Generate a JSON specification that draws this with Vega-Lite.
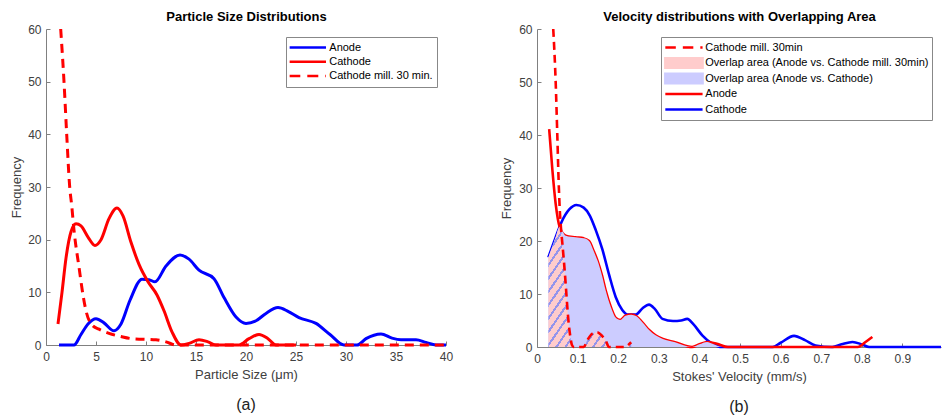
{
  "$schema": "https://vega.github.io/schema/vega-lite/v6.json",
  "padding": {"left": 10, "top": 10, "right": 0, "bottom": 0},
  "background": "#ffffff",
  "config": {
    "font": "Liberation Sans",
    "view": {"stroke": null},
    "axis": {"grid": false, "labelFlush": false, "domainColor": "#808080", "tickColor": "#808080", "labelColor": "#404040", "titleColor": "#404040", "labelFontSize": 12, "titleFontSize": 13, "titleFontWeight": "normal", "tickSize": -4, "domainWidth": 1},
    "legend": {"labelFontSize": 11, "labelColor": "#000000", "labelLimit": 300, "strokeColor": "#888888", "fillColor": "#ffffff", "padding": 3.5, "rowPadding": 0, "symbolSize": 144, "symbolStrokeWidth": 2.5, "cornerRadius": 0},
    "title": {"fontSize": 16, "fontWeight": "normal", "color": "#222222", "frame": "group", "orient": "bottom", "offset": 16}
  },
  "datasets": {
    "L": [
      {"series": "Anode", "x": 1.3, "y": 0}, {"series": "Anode", "x": 2.8, "y": 0}, {"series": "Anode", "x": 3.5, "y": 2}, {"series": "Anode", "x": 4.2, "y": 4}, {"series": "Anode", "x": 5.0, "y": 5.0}, {"series": "Anode", "x": 5.8, "y": 4.2}, {"series": "Anode", "x": 6.8, "y": 2.7}, {"series": "Anode", "x": 7.5, "y": 4}, {"series": "Anode", "x": 8.4, "y": 8.5}, {"series": "Anode", "x": 9.6, "y": 12.5}, {"series": "Anode", "x": 10.3, "y": 12.4}, {"series": "Anode", "x": 10.9, "y": 12.0}, {"series": "Anode", "x": 12, "y": 15}, {"series": "Anode", "x": 13.4, "y": 17.1}, {"series": "Anode", "x": 14.3, "y": 16.3}, {"series": "Anode", "x": 15.3, "y": 14.2}, {"series": "Anode", "x": 16.8, "y": 12.6}, {"series": "Anode", "x": 17.8, "y": 9}, {"series": "Anode", "x": 19, "y": 5.3}, {"series": "Anode", "x": 20, "y": 4.1}, {"series": "Anode", "x": 21, "y": 4.6}, {"series": "Anode", "x": 22, "y": 6}, {"series": "Anode", "x": 23.2, "y": 7.1}, {"series": "Anode", "x": 24.2, "y": 6.4}, {"series": "Anode", "x": 25.3, "y": 5.2}, {"series": "Anode", "x": 27, "y": 4.1}, {"series": "Anode", "x": 28.4, "y": 2}, {"series": "Anode", "x": 29.8, "y": 0}, {"series": "Anode", "x": 31.1, "y": 0}, {"series": "Anode", "x": 32, "y": 1.2}, {"series": "Anode", "x": 33.5, "y": 2.1}, {"series": "Anode", "x": 34.6, "y": 1.3}, {"series": "Anode", "x": 35.5, "y": 1.0}, {"series": "Anode", "x": 37, "y": 1.0}, {"series": "Anode", "x": 38, "y": 0.5}, {"series": "Anode", "x": 39, "y": 0}, {"series": "Anode", "x": 40, "y": 0},
      {"series": "Cathode", "x": 1.2, "y": 4}, {"series": "Cathode", "x": 1.6, "y": 10}, {"series": "Cathode", "x": 2.0, "y": 16.5}, {"series": "Cathode", "x": 2.5, "y": 21.5}, {"series": "Cathode", "x": 3.0, "y": 23}, {"series": "Cathode", "x": 3.5, "y": 22.6}, {"series": "Cathode", "x": 4.2, "y": 20.5}, {"series": "Cathode", "x": 4.9, "y": 18.9}, {"series": "Cathode", "x": 5.5, "y": 20}, {"series": "Cathode", "x": 6.3, "y": 24}, {"series": "Cathode", "x": 7.1, "y": 26}, {"series": "Cathode", "x": 7.7, "y": 24.5}, {"series": "Cathode", "x": 8.5, "y": 19.5}, {"series": "Cathode", "x": 9.3, "y": 15.3}, {"series": "Cathode", "x": 10.2, "y": 12}, {"series": "Cathode", "x": 11.1, "y": 9.5}, {"series": "Cathode", "x": 11.8, "y": 6.5}, {"series": "Cathode", "x": 12.6, "y": 2.5}, {"series": "Cathode", "x": 13.5, "y": 0}, {"series": "Cathode", "x": 14.3, "y": 0.3}, {"series": "Cathode", "x": 15.3, "y": 1.0}, {"series": "Cathode", "x": 16.2, "y": 0.6}, {"series": "Cathode", "x": 17, "y": 0}, {"series": "Cathode", "x": 19.3, "y": 0}, {"series": "Cathode", "x": 20.3, "y": 1.2}, {"series": "Cathode", "x": 21.3, "y": 2}, {"series": "Cathode", "x": 22.2, "y": 1.2}, {"series": "Cathode", "x": 23, "y": 0}, {"series": "Cathode", "x": 25, "y": 0},
      {"series": "Cathode mill. 30 min.", "x": 1.47, "y": 60}, {"series": "Cathode mill. 30 min.", "x": 1.8, "y": 50}, {"series": "Cathode mill. 30 min.", "x": 2.07, "y": 40}, {"series": "Cathode mill. 30 min.", "x": 2.37, "y": 30}, {"series": "Cathode mill. 30 min.", "x": 2.57, "y": 26.5}, {"series": "Cathode mill. 30 min.", "x": 2.8, "y": 21.8}, {"series": "Cathode mill. 30 min.", "x": 3.3, "y": 14.8}, {"series": "Cathode mill. 30 min.", "x": 3.7, "y": 9.5}, {"series": "Cathode mill. 30 min.", "x": 4.0, "y": 6.5}, {"series": "Cathode mill. 30 min.", "x": 4.6, "y": 3.8}, {"series": "Cathode mill. 30 min.", "x": 5.3, "y": 3.0}, {"series": "Cathode mill. 30 min.", "x": 6.3, "y": 2.2}, {"series": "Cathode mill. 30 min.", "x": 7.5, "y": 1.6}, {"series": "Cathode mill. 30 min.", "x": 8.6, "y": 1.2}, {"series": "Cathode mill. 30 min.", "x": 11, "y": 1.0}, {"series": "Cathode mill. 30 min.", "x": 12, "y": 0.6}, {"series": "Cathode mill. 30 min.", "x": 13, "y": 0}, {"series": "Cathode mill. 30 min.", "x": 40, "y": 0}
    ],
    "R": [
      {"series": "Cathode", "x": 0.028, "y": 16.9}, {"series": "Cathode", "x": 0.045, "y": 20.5}, {"series": "Cathode", "x": 0.06, "y": 23.5}, {"series": "Cathode", "x": 0.08, "y": 26}, {"series": "Cathode", "x": 0.097, "y": 26.8}, {"series": "Cathode", "x": 0.115, "y": 26.3}, {"series": "Cathode", "x": 0.13, "y": 24.8}, {"series": "Cathode", "x": 0.145, "y": 22}, {"series": "Cathode", "x": 0.161, "y": 18.4}, {"series": "Cathode", "x": 0.178, "y": 13.5}, {"series": "Cathode", "x": 0.194, "y": 9.4}, {"series": "Cathode", "x": 0.21, "y": 7}, {"series": "Cathode", "x": 0.225, "y": 6.1}, {"series": "Cathode", "x": 0.243, "y": 6.1}, {"series": "Cathode", "x": 0.26, "y": 7.3}, {"series": "Cathode", "x": 0.276, "y": 8.0}, {"series": "Cathode", "x": 0.29, "y": 7.2}, {"series": "Cathode", "x": 0.309, "y": 5.3}, {"series": "Cathode", "x": 0.335, "y": 4.9}, {"series": "Cathode", "x": 0.355, "y": 5.0}, {"series": "Cathode", "x": 0.37, "y": 5.3}, {"series": "Cathode", "x": 0.385, "y": 4.3}, {"series": "Cathode", "x": 0.407, "y": 2.2}, {"series": "Cathode", "x": 0.432, "y": 0.6}, {"series": "Cathode", "x": 0.456, "y": 0}, {"series": "Cathode", "x": 0.58, "y": 0}, {"series": "Cathode", "x": 0.6, "y": 0.8}, {"series": "Cathode", "x": 0.633, "y": 2.1}, {"series": "Cathode", "x": 0.66, "y": 1.3}, {"series": "Cathode", "x": 0.686, "y": 0.3}, {"series": "Cathode", "x": 0.727, "y": 0}, {"series": "Cathode", "x": 0.75, "y": 0.5}, {"series": "Cathode", "x": 0.777, "y": 0.95}, {"series": "Cathode", "x": 0.8, "y": 0.5}, {"series": "Cathode", "x": 0.818, "y": 0}, {"series": "Cathode", "x": 0.995, "y": 0},
      {"series": "Anode", "x": 0.030, "y": 41.1}, {"series": "Anode", "x": 0.038, "y": 33.3}, {"series": "Anode", "x": 0.046, "y": 27}, {"series": "Anode", "x": 0.056, "y": 22.6}, {"series": "Anode", "x": 0.0707, "y": 21.0}, {"series": "Anode", "x": 0.095, "y": 20.7}, {"series": "Anode", "x": 0.115, "y": 20.5}, {"series": "Anode", "x": 0.128, "y": 20.0}, {"series": "Anode", "x": 0.14, "y": 18}, {"series": "Anode", "x": 0.149, "y": 16.3}, {"series": "Anode", "x": 0.16, "y": 13.5}, {"series": "Anode", "x": 0.169, "y": 10.7}, {"series": "Anode", "x": 0.182, "y": 7.5}, {"series": "Anode", "x": 0.194, "y": 5.5}, {"series": "Anode", "x": 0.205, "y": 5.1}, {"series": "Anode", "x": 0.218, "y": 5.9}, {"series": "Anode", "x": 0.232, "y": 6.1}, {"series": "Anode", "x": 0.245, "y": 5.8}, {"series": "Anode", "x": 0.26, "y": 4.6}, {"series": "Anode", "x": 0.276, "y": 3.2}, {"series": "Anode", "x": 0.292, "y": 2.2}, {"series": "Anode", "x": 0.31, "y": 1.5}, {"series": "Anode", "x": 0.34, "y": 0.9}, {"series": "Anode", "x": 0.382, "y": 0}, {"series": "Anode", "x": 0.4, "y": 0.5}, {"series": "Anode", "x": 0.419, "y": 0.95}, {"series": "Anode", "x": 0.443, "y": 0.6}, {"series": "Anode", "x": 0.47, "y": 0}, {"series": "Anode", "x": 0.79, "y": 0}, {"series": "Anode", "x": 0.81, "y": 1.0}, {"series": "Anode", "x": 0.826, "y": 1.9},
      {"series": "Cathode mill. 30min", "x": 0.040, "y": 60}, {"series": "Cathode mill. 30min", "x": 0.046, "y": 50}, {"series": "Cathode mill. 30min", "x": 0.050, "y": 40}, {"series": "Cathode mill. 30min", "x": 0.053, "y": 32}, {"series": "Cathode mill. 30min", "x": 0.056, "y": 26}, {"series": "Cathode mill. 30min", "x": 0.059, "y": 22.5}, {"series": "Cathode mill. 30min", "x": 0.0625, "y": 19.5}, {"series": "Cathode mill. 30min", "x": 0.0665, "y": 16}, {"series": "Cathode mill. 30min", "x": 0.071, "y": 11.5}, {"series": "Cathode mill. 30min", "x": 0.0747, "y": 7.5}, {"series": "Cathode mill. 30min", "x": 0.078, "y": 4.5}, {"series": "Cathode mill. 30min", "x": 0.082, "y": 2}, {"series": "Cathode mill. 30min", "x": 0.086, "y": 0.4}, {"series": "Cathode mill. 30min", "x": 0.09, "y": 0}, {"series": "Cathode mill. 30min", "x": 0.115, "y": 0}, {"series": "Cathode mill. 30min", "x": 0.124, "y": 1.3}, {"series": "Cathode mill. 30min", "x": 0.136, "y": 2.5}, {"series": "Cathode mill. 30min", "x": 0.148, "y": 2.8}, {"series": "Cathode mill. 30min", "x": 0.16, "y": 2.1}, {"series": "Cathode mill. 30min", "x": 0.17, "y": 1.1}, {"series": "Cathode mill. 30min", "x": 0.177, "y": 0}, {"series": "Cathode mill. 30min", "x": 0.218, "y": 0}, {"series": "Cathode mill. 30min", "x": 0.225, "y": 0.4}, {"series": "Cathode mill. 30min", "x": 0.232, "y": 0.9}
    ],
    "RA": [
      {"area": "Overlap area (Anode vs. Cathode)", "x": 0.028, "y": 16.9}, {"area": "Overlap area (Anode vs. Cathode)", "x": 0.045, "y": 20.5}, {"area": "Overlap area (Anode vs. Cathode)", "x": 0.056, "y": 22.6}, {"area": "Overlap area (Anode vs. Cathode)", "x": 0.0707, "y": 21.0}, {"area": "Overlap area (Anode vs. Cathode)", "x": 0.095, "y": 20.7}, {"area": "Overlap area (Anode vs. Cathode)", "x": 0.115, "y": 20.5}, {"area": "Overlap area (Anode vs. Cathode)", "x": 0.128, "y": 20.0}, {"area": "Overlap area (Anode vs. Cathode)", "x": 0.14, "y": 18}, {"area": "Overlap area (Anode vs. Cathode)", "x": 0.149, "y": 16.3}, {"area": "Overlap area (Anode vs. Cathode)", "x": 0.16, "y": 13.5}, {"area": "Overlap area (Anode vs. Cathode)", "x": 0.169, "y": 10.7}, {"area": "Overlap area (Anode vs. Cathode)", "x": 0.182, "y": 7.5}, {"area": "Overlap area (Anode vs. Cathode)", "x": 0.194, "y": 5.5}, {"area": "Overlap area (Anode vs. Cathode)", "x": 0.205, "y": 5.1}, {"area": "Overlap area (Anode vs. Cathode)", "x": 0.218, "y": 5.9}, {"area": "Overlap area (Anode vs. Cathode)", "x": 0.232, "y": 6.1}, {"area": "Overlap area (Anode vs. Cathode)", "x": 0.245, "y": 5.8}, {"area": "Overlap area (Anode vs. Cathode)", "x": 0.26, "y": 4.6}, {"area": "Overlap area (Anode vs. Cathode)", "x": 0.276, "y": 3.2}, {"area": "Overlap area (Anode vs. Cathode)", "x": 0.292, "y": 2.2}, {"area": "Overlap area (Anode vs. Cathode)", "x": 0.31, "y": 1.5}, {"area": "Overlap area (Anode vs. Cathode)", "x": 0.34, "y": 0.9}, {"area": "Overlap area (Anode vs. Cathode)", "x": 0.382, "y": 0}, {"area": "Overlap area (Anode vs. Cathode)", "x": 0.4, "y": 0.5}, {"area": "Overlap area (Anode vs. Cathode)", "x": 0.419, "y": 0.95}, {"area": "Overlap area (Anode vs. Cathode)", "x": 0.432, "y": 0.6}, {"area": "Overlap area (Anode vs. Cathode)", "x": 0.456, "y": 0}, {"area": "Overlap area (Anode vs. Cathode)", "x": 0.48, "y": 0},
      {"area": "Overlap area (Anode vs. Cathode mill. 30min)", "x": 0.028, "y": 16.9}, {"area": "Overlap area (Anode vs. Cathode mill. 30min)", "x": 0.045, "y": 20.5}, {"area": "Overlap area (Anode vs. Cathode mill. 30min)", "x": 0.056, "y": 22.7}, {"area": "Overlap area (Anode vs. Cathode mill. 30min)", "x": 0.059, "y": 22.5}, {"area": "Overlap area (Anode vs. Cathode mill. 30min)", "x": 0.0625, "y": 19.5}, {"area": "Overlap area (Anode vs. Cathode mill. 30min)", "x": 0.0665, "y": 16}, {"area": "Overlap area (Anode vs. Cathode mill. 30min)", "x": 0.071, "y": 11.5}, {"area": "Overlap area (Anode vs. Cathode mill. 30min)", "x": 0.0747, "y": 7.5}, {"area": "Overlap area (Anode vs. Cathode mill. 30min)", "x": 0.078, "y": 4.5}, {"area": "Overlap area (Anode vs. Cathode mill. 30min)", "x": 0.082, "y": 2}, {"area": "Overlap area (Anode vs. Cathode mill. 30min)", "x": 0.086, "y": 0.4}, {"area": "Overlap area (Anode vs. Cathode mill. 30min)", "x": 0.09, "y": 0}, {"area": "Overlap area (Anode vs. Cathode mill. 30min)", "x": 0.115, "y": 0}, {"area": "Overlap area (Anode vs. Cathode mill. 30min)", "x": 0.124, "y": 1.3}, {"area": "Overlap area (Anode vs. Cathode mill. 30min)", "x": 0.136, "y": 2.5}, {"area": "Overlap area (Anode vs. Cathode mill. 30min)", "x": 0.148, "y": 2.8}, {"area": "Overlap area (Anode vs. Cathode mill. 30min)", "x": 0.16, "y": 2.1}, {"area": "Overlap area (Anode vs. Cathode mill. 30min)", "x": 0.17, "y": 1.1}, {"area": "Overlap area (Anode vs. Cathode mill. 30min)", "x": 0.177, "y": 0}, {"area": "Overlap area (Anode vs. Cathode mill. 30min)", "x": 0.218, "y": 0}, {"area": "Overlap area (Anode vs. Cathode mill. 30min)", "x": 0.225, "y": 0.4}, {"area": "Overlap area (Anode vs. Cathode mill. 30min)", "x": 0.232, "y": 0.9}
    ]
  },
  "spacing": 91,
  "bounds": "flush",
  "resolve": {"scale": {"color": "independent"}, "legend": {"color": "independent"}},
  "hconcat": [
    {
      "width": 400,
      "height": 316,
      "title": {"text": "(a)"},
      "data": {"name": "L"},
      "resolve": {"axis": {"x": "independent"}},
      "layer": [
        {
          "transform": [{"filter": "datum.series !== 'Cathode mill. 30 min.'"}],
          "mark": {"type": "line", "interpolate": "monotone", "strokeWidth": 3},
          "encoding": {
            "x": {"field": "x", "type": "quantitative", "scale": {"domain": [0, 40], "nice": false}, "axis": {"orient": "bottom", "values": [0, 5, 10, 15, 20, 25, 30, 35, 40], "title": "Particle Size (μm)", "labelPadding": 10, "titlePadding": 6}},
            "y": {"field": "y", "type": "quantitative", "scale": {"domain": [0, 60], "nice": false}, "axis": {"values": [0, 10, 20, 30, 40, 50, 60], "title": "Frequency", "labelPadding": 9, "titlePadding": 4}},
            "color": {"field": "series", "type": "nominal", "scale": {"domain": ["Anode", "Cathode", "Cathode mill. 30 min."], "range": ["#0000ff", "#ff0000", "#ff0000"]},
              "legend": {"title": null, "orient": "none", "legendX": 240, "legendY": 8, "symbolType": "M-1.31,0H5.36", "symbolSize": 121, "labelOffset": 25.8, "rowPadding": 0.3, "padding": 3.5, "clipHeight": 14,
                "encode": {"symbols": {"update": {"strokeDash": {"signal": "datum.value === 'Cathode mill. 30 min.' ? [11,7] : [1,0]"}, "fill": {"value": "transparent"}, "opacity": {"value": 1}}}}}}
          }
        },
        {
          "transform": [{"filter": "datum.series === 'Cathode mill. 30 min.'"}],
          "mark": {"type": "line", "interpolate": "monotone", "strokeWidth": 3, "strokeDash": [9, 6]},
          "encoding": {
            "x": {"field": "x", "type": "quantitative", "axis": null},
            "y": {"field": "y", "type": "quantitative"},
            "color": {"field": "series", "type": "nominal"}
          }
        },
        {
          "mark": {"type": "line", "strokeOpacity": 0},
          "encoding": {
            "x": {"field": "x", "type": "quantitative", "axis": {"orient": "top", "title": "Particle Size Distributions", "domain": false, "ticks": false, "labels": false, "titleFontSize": 13, "titleFontWeight": "bold", "titleColor": "#000000", "titlePadding": 6}},
            "y": {"field": "y", "type": "quantitative"}
          }
        }
      ]
    },
    {
      "width": 404,
      "height": 318,
      "title": {"text": "(b)"},
      "resolve": {"axis": {"x": "independent"}},
      "layer": [
        {
          "data": {"name": "R"},
          "transform": [{"filter": "datum.series !== 'Cathode mill. 30min'"}],
          "mark": {"type": "line", "interpolate": "monotone", "strokeWidth": 2.6},
          "encoding": {
            "x": {"field": "x", "type": "quantitative", "scale": {"domain": [0, 0.995], "nice": false}, "axis": {"orient": "bottom", "values": [0, 0.1, 0.2, 0.3, 0.4, 0.5, 0.6, 0.7, 0.8, 0.9], "format": "~g", "title": "Stokes' Velocity (mm/s)", "labelPadding": 10, "titlePadding": 6}},
            "y": {"field": "y", "type": "quantitative", "scale": {"domain": [0, 60], "nice": false}, "axis": {"values": [0, 10, 20, 30, 40, 50, 60], "title": "Frequency", "labelPadding": 9, "titlePadding": 5}},
            "color": {"field": "series", "type": "nominal",
              "scale": {"domain": ["Cathode mill. 30min", "Overlap area (Anode vs. Cathode mill. 30min)", "Overlap area (Anode vs. Cathode)", "Anode", "Cathode"], "range": ["#ff0000", "#ffcccc", "#ccccff", "#ff0000", "#0000ff"]},
              "legend": {"title": null, "orient": "none", "legendX": 124, "legendY": 8, "symbolType": "M-1.03,0H5.18", "labelOffset": 26.3, "rowPadding": 0.5, "padding": 3, "clipHeight": 15,
                "encode": {"symbols": {"update": {
                  "shape": {"signal": "indexof(datum.value, 'Overlap') === 0 ? 'M-1.03,-0.8L5.18,-0.8L5.18,0.8L-1.03,0.8Z' : 'M-1.03,0H5.18'"},
                  "fill": {"signal": "datum.value === 'Overlap area (Anode vs. Cathode mill. 30min)' ? '#ffcccc' : (datum.value === 'Overlap area (Anode vs. Cathode)' ? '#ccccff' : 'transparent')"},
                  "stroke": {"signal": "indexof(datum.value, 'Overlap') === 0 ? 'transparent' : (datum.value === 'Cathode' ? '#0000ff' : '#ff0000')"},
                  "strokeDash": {"signal": "datum.value === 'Cathode mill. 30min' ? [10.5,7] : [1,0]"},
                  "opacity": {"value": 1}
                }}}}}
          }
        },
        {
          "data": {"name": "RA"},
          "transform": [{"filter": "datum.area === 'Overlap area (Anode vs. Cathode)'"}],
          "mark": {"type": "area", "interpolate": "monotone", "fill": "#ccccff", "opacity": 1},
          "encoding": {
            "x": {"field": "x", "type": "quantitative", "axis": null},
            "y": {"field": "y", "type": "quantitative"}
          }
        },
        {
          "data": {"name": "RA"},
          "transform": [{"filter": "datum.area === 'Overlap area (Anode vs. Cathode mill. 30min)'"}],
          "mark": {"type": "area", "interpolate": "monotone", "opacity": 1,
            "fill": {"gradient": "linear", "x1": 0, "y1": 0, "x2": 1, "y2": 1, "stops": [
              {"offset": 0, "color": "#ffcccc"}, {"offset": 0.0406, "color": "#ffcccc"}, {"offset": 0.0406, "color": "#9494ec"}, {"offset": 0.0556, "color": "#9494ec"},
              {"offset": 0.0556, "color": "#ffcccc"}, {"offset": 0.0961, "color": "#ffcccc"}, {"offset": 0.0961, "color": "#9494ec"}, {"offset": 0.1111, "color": "#9494ec"},
              {"offset": 0.1111, "color": "#ffcccc"}, {"offset": 0.1517, "color": "#ffcccc"}, {"offset": 0.1517, "color": "#9494ec"}, {"offset": 0.1667, "color": "#9494ec"},
              {"offset": 0.1667, "color": "#ffcccc"}, {"offset": 0.2072, "color": "#ffcccc"}, {"offset": 0.2072, "color": "#9494ec"}, {"offset": 0.2222, "color": "#9494ec"},
              {"offset": 0.2222, "color": "#ffcccc"}, {"offset": 0.2628, "color": "#ffcccc"}, {"offset": 0.2628, "color": "#9494ec"}, {"offset": 0.2778, "color": "#9494ec"},
              {"offset": 0.2778, "color": "#ffcccc"}, {"offset": 0.3183, "color": "#ffcccc"}, {"offset": 0.3183, "color": "#9494ec"}, {"offset": 0.3333, "color": "#9494ec"},
              {"offset": 0.3333, "color": "#ffcccc"}, {"offset": 0.3739, "color": "#ffcccc"}, {"offset": 0.3739, "color": "#9494ec"}, {"offset": 0.3889, "color": "#9494ec"},
              {"offset": 0.3889, "color": "#ffcccc"}, {"offset": 0.4294, "color": "#ffcccc"}, {"offset": 0.4294, "color": "#9494ec"}, {"offset": 0.4444, "color": "#9494ec"},
              {"offset": 0.4444, "color": "#ffcccc"}, {"offset": 0.485, "color": "#ffcccc"}, {"offset": 0.485, "color": "#9494ec"}, {"offset": 0.5, "color": "#9494ec"},
              {"offset": 0.5, "color": "#ffcccc"}, {"offset": 0.5406, "color": "#ffcccc"}, {"offset": 0.5406, "color": "#9494ec"}, {"offset": 0.5556, "color": "#9494ec"},
              {"offset": 0.5556, "color": "#ffcccc"}, {"offset": 0.5961, "color": "#ffcccc"}, {"offset": 0.5961, "color": "#9494ec"}, {"offset": 0.6111, "color": "#9494ec"},
              {"offset": 0.6111, "color": "#ffcccc"}, {"offset": 0.6517, "color": "#ffcccc"}, {"offset": 0.6517, "color": "#9494ec"}, {"offset": 0.6667, "color": "#9494ec"},
              {"offset": 0.6667, "color": "#ffcccc"}, {"offset": 0.7072, "color": "#ffcccc"}, {"offset": 0.7072, "color": "#9494ec"}, {"offset": 0.7222, "color": "#9494ec"},
              {"offset": 0.7222, "color": "#ffcccc"}, {"offset": 0.7628, "color": "#ffcccc"}, {"offset": 0.7628, "color": "#9494ec"}, {"offset": 0.7778, "color": "#9494ec"},
              {"offset": 0.7778, "color": "#ffcccc"}, {"offset": 0.8183, "color": "#ffcccc"}, {"offset": 0.8183, "color": "#9494ec"}, {"offset": 0.8333, "color": "#9494ec"},
              {"offset": 0.8333, "color": "#ffcccc"}, {"offset": 0.8739, "color": "#ffcccc"}, {"offset": 0.8739, "color": "#9494ec"}, {"offset": 0.8889, "color": "#9494ec"},
              {"offset": 0.8889, "color": "#ffcccc"}, {"offset": 0.9294, "color": "#ffcccc"}, {"offset": 0.9294, "color": "#9494ec"}, {"offset": 0.9444, "color": "#9494ec"},
              {"offset": 0.9444, "color": "#ffcccc"}, {"offset": 0.985, "color": "#ffcccc"}, {"offset": 0.985, "color": "#9494ec"}, {"offset": 1, "color": "#9494ec"}
            ]}},
          "encoding": {
            "x": {"field": "x", "type": "quantitative", "axis": null},
            "y": {"field": "y", "type": "quantitative"}
          }
        },
        {
          "data": {"name": "R"},
          "transform": [{"filter": "datum.series === 'Cathode mill. 30min'"}],
          "mark": {"type": "line", "interpolate": "monotone", "strokeWidth": 2.6, "strokeDash": [8, 5]},
          "encoding": {
            "x": {"field": "x", "type": "quantitative", "axis": null},
            "y": {"field": "y", "type": "quantitative"},
            "color": {"field": "series", "type": "nominal"}
          }
        },
        {
          "data": {"name": "R"},
          "mark": {"type": "line", "strokeOpacity": 0},
          "encoding": {
            "x": {"field": "x", "type": "quantitative", "axis": {"orient": "top", "title": "Velocity distributions with Overlapping Area", "domain": false, "ticks": false, "labels": false, "titleFontSize": 13, "titleFontWeight": "bold", "titleColor": "#000000", "titlePadding": 6}},
            "y": {"field": "y", "type": "quantitative"}
          }
        }
      ]
    }
  ]
}
